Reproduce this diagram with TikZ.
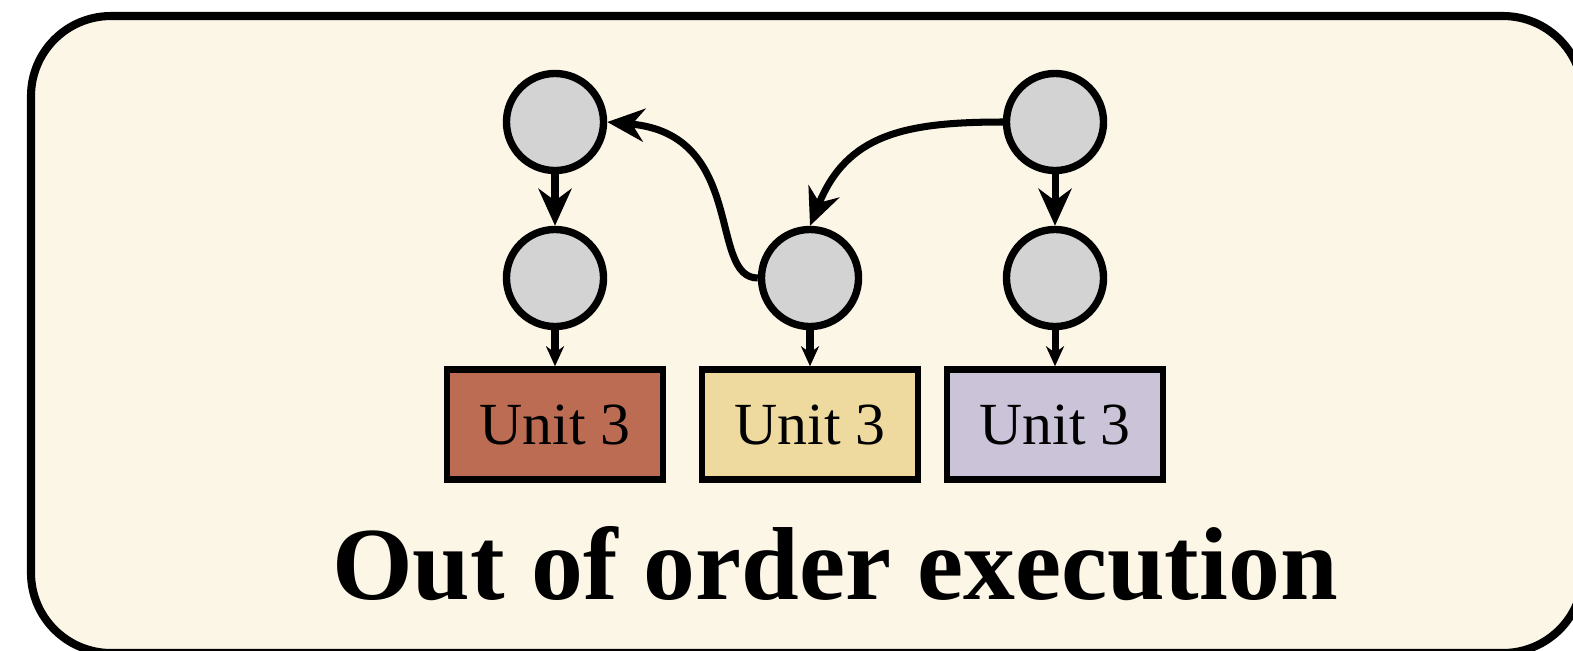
\documentclass[tikz,border=0pt]{standalone}
\usepackage{fontspec}
\setmainfont{Liberation Serif}
\usetikzlibrary{positioning}
\usetikzlibrary{arrows.meta}

\definecolor{framebg}{HTML}{FCF6E6}
\definecolor{nodegray}{HTML}{D3D3D3}
\definecolor{unitred}{HTML}{BC6C52}
\definecolor{unityellow}{HTML}{EED99F}
\definecolor{unitpurple}{HTML}{CBC3D7}

\begin{document}
\begin{tikzpicture}[x=0.01cm, y=0.01cm,
    roundnode/.style={circle, draw=black, fill=nodegray, line width=2.1pt, minimum size=0.97cm, inner sep=0pt},
    unitnode/.style={rectangle, draw=black, line width=1.9pt, minimum width=2.16cm, minimum height=1.1cm, inner sep=0pt, font=\fontsize{17}{20}\selectfont},
    bigarrow/.style={line width=2pt, -{Stealth[length=0.37cm, width=0.33cm]}},
    smallarrow/.style={line width=2pt, -{Stealth[length=0.2cm, width=0.18cm]}},
    ]

    %Frame
    \useasboundingbox (0,0) rectangle (1573,650);
    \clip (0,0) rectangle (1573,650);
    \fill[white] (0,0) rectangle (1573,650);
    \draw[line width=2.3pt, fill=framebg, rounded corners=0.8cm] (31,-3) rectangle (1583,634);

    %Nodes
    \node[roundnode] (topleft)   at (555,528)                  {};
    \node[roundnode] (midleft)   at (555,372)                  {};
    \node[roundnode] (midcenter) at (810,372)                  {};
    \node[roundnode] (topright)  at (1055,528)                 {};
    \node[roundnode] (midright)  at (1055,372)                 {};
    \node[unitnode, fill=unitred]    (unitleft)   [below=0.36cm of midleft]   {Unit 3};
    \node[unitnode, fill=unityellow] (unitcenter) [below=0.36cm of midcenter] {Unit 3};
    \node[unitnode, fill=unitpurple] (unitright)  [below=0.36cm of midright]  {Unit 3};
    \node[font=\fontsize{29.5}{34}\selectfont\bfseries, anchor=base] (title) at (835,51) {Out of order execution};

    %Lines
    \draw[bigarrow] (topleft.south) -- (midleft.north);
    \draw[bigarrow] (topright.south) -- (midright.north);
    \draw[smallarrow] (midleft.south) -- (unitleft.north);
    \draw[smallarrow] (midcenter.south) -- (unitcenter.north);
    \draw[smallarrow] (midright.south) -- (unitright.north);
    \draw[bigarrow] (midcenter.west) .. controls +(-50,0) and +(140,-12) .. (topleft.east);
    \draw[bigarrow] (topright.west) to[out=180, in=68, looseness=1.15] (midcenter.north);

\end{tikzpicture}
\end{document}
